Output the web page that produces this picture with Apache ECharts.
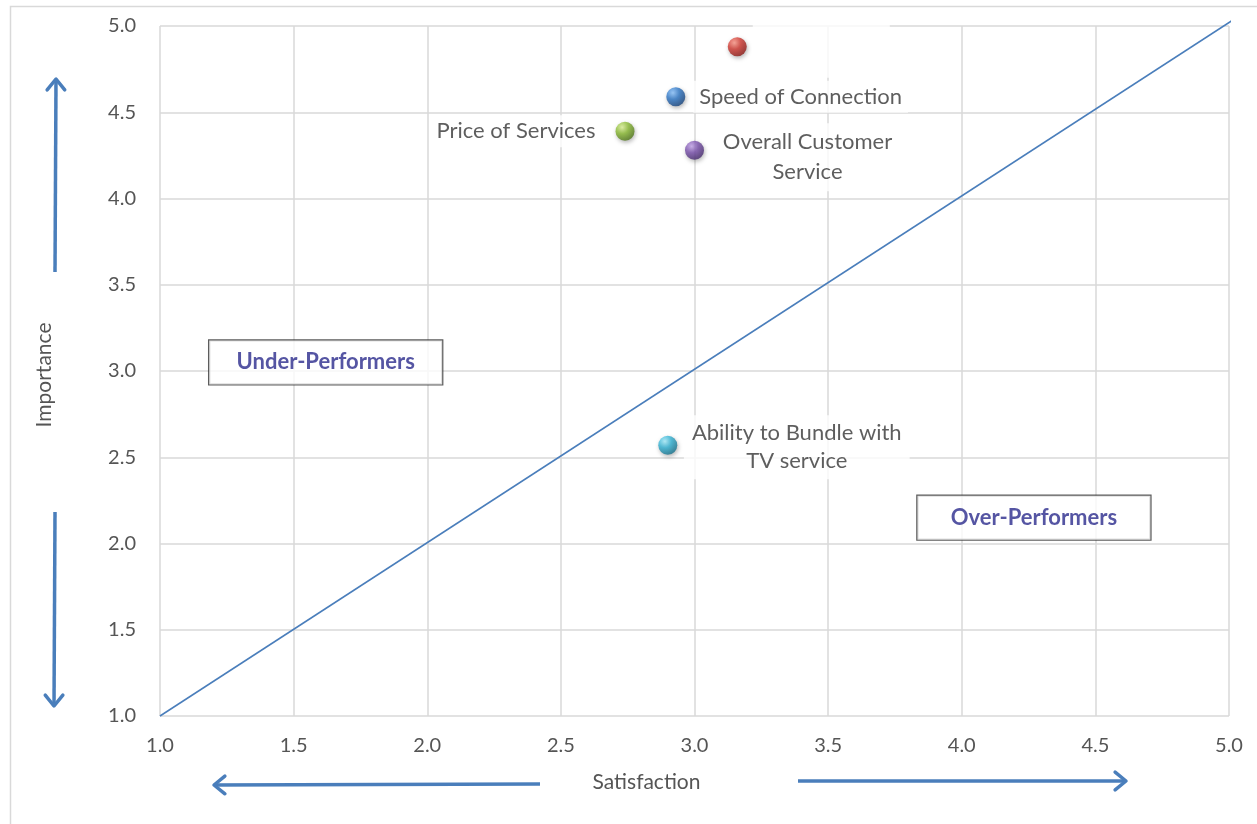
<!DOCTYPE html>
<html>
<head>
<meta charset="utf-8">
<script src="https://cdn.jsdelivr.net/npm/echarts@6/dist/echarts.min.js"></script>
<style>
  html, body { margin: 0; padding: 0; background: #fff; }
  #chart { width: 1257px; height: 824px; }
</style>
</head>
<body>
<div id="chart"></div>
<script>
// Importance vs. satisfaction for each service attribute
const attributes = ['Reliability of Connection', 'Speed of Connection', 'Price of Services', 'Overall Customer\nService', 'Ability to Bundle with\nTV service'];
const satisfaction = [3.16, 2.93, 2.74, 3.00, 2.90];
const importance = [4.88, 4.59, 4.39, 4.28, 2.57];
const ballColors = [
  ['#ff9a8a', '#d23a32', '#8a1a16'],
  ['#8cc4ff', '#2f78c8', '#17427a'],
  ['#e0f59a', '#8cbc34', '#4e7418'],
  ['#c7a8ee', '#7b52ae', '#452a6c'],
  ['#a9f0ff', '#33b4d6', '#17708a']
];

// Parity line: importance equals satisfaction
const parityLine = [[1.0, 1.0], [5.01, 5.03]];

// Quadrant captions
const quadrantNames = ['Under-Performers', 'Over-Performers'];
const quadrantPos = [[1.62, 3.05], [4.27, 2.15]];

const axisTicks = [1.0, 1.5, 2.0, 2.5, 3.0, 3.5, 4.0, 4.5, 5.0];

const FONT = 'Lato';
const TEXT = '#363636';
const AXIS_TEXT = '#555555';
const ARROW = '#4a7ebb';

// label placement per attribute
const labelStyles = [
  { show: true, formatter: ' ', position: 'inside', offset: [84, 0], width: 137, height: 62, backgroundColor: '#fff' },
  { show: true, position: 'right', distance: 8, padding: [5, 6], backgroundColor: '#fff' },
  { show: true, position: 'left', distance: 14, padding: [5, 6], backgroundColor: '#fff' },
  { show: true, position: 'inside', offset: [113, 7], align: 'center', verticalAlign: 'middle', lineHeight: 30, padding: [4, 8], backgroundColor: '#fff' },
  { show: true, position: 'inside', offset: [129, 2], align: 'center', verticalAlign: 'middle', lineHeight: 28, padding: [4, 8], backgroundColor: '#fff' }
];

const pointData = attributes.map((name, i) => ({
  name: name,
  value: [satisfaction[i], importance[i]],
  itemStyle: {
    color: {
      type: 'radial', x: 0.35, y: 0.3, r: 0.75,
      colorStops: [
        { offset: 0, color: ballColors[i][0] },
        { offset: 0.45, color: ballColors[i][1] },
        { offset: 1, color: ballColors[i][2] }
      ]
    },
    shadowColor: 'rgba(0,0,0,0.35)', shadowBlur: 4, shadowOffsetX: 1, shadowOffsetY: 2
  },
  label: Object.assign({ formatter: '{b}', color: TEXT, fontSize: 22, fontFamily: FONT }, labelStyles[i])
}));

const quadrantData = quadrantNames.map((n, i) => ({ name: n, value: quadrantPos[i] }));

function arrow(x1, y1, x2, y2) {
  const ang = Math.atan2(y2 - y1, x2 - x1);
  const L = 14, W = 0.68;
  const a1 = [x2 - L * Math.cos(ang - W), y2 - L * Math.sin(ang - W)];
  const a2 = [x2 - L * Math.cos(ang + W), y2 - L * Math.sin(ang + W)];
  return [
    { type: 'line', shape: { x1: x1, y1: y1, x2: x2, y2: y2 }, style: { stroke: ARROW, lineWidth: 3.5 } },
    { type: 'polyline', shape: { points: [a1, [x2, y2], a2] }, style: { stroke: ARROW, lineWidth: 3.5, fill: null, lineCap: 'round', lineJoin: 'round' } }
  ];
}

const chart = echarts.init(document.getElementById('chart'));
chart.setOption({
  backgroundColor: '#fff',
  animation: false,
  grid: { left: 160, right: 28, top: 26, bottom: 108 },
  xAxis: {
    type: 'value', min: 1, max: 5, interval: 0.5,
    name: 'Satisfaction', nameLocation: 'middle', nameGap: 56,
    nameTextStyle: { color: AXIS_TEXT, fontSize: 21, fontFamily: FONT, padding: [0, 96, 0, 0] },
    axisLine: { show: false }, axisTick: { show: false },
    axisLabel: { color: AXIS_TEXT, fontSize: 20, fontFamily: FONT, margin: 20, formatter: v => v.toFixed(1) },
    splitLine: { lineStyle: { color: '#d9d9d9', width: 1.5 } }
  },
  yAxis: {
    type: 'value', min: 1, max: 5, interval: 0.5,
    name: 'Importance', nameLocation: 'middle', nameGap: 105, nameRotate: 90,
    nameTextStyle: { color: AXIS_TEXT, fontSize: 21, fontFamily: FONT, padding: [0, 8, 0, 0] },
    axisLine: { show: false }, axisTick: { show: false },
    axisLabel: { color: AXIS_TEXT, fontSize: 20, fontFamily: FONT, margin: 24, formatter: v => v.toFixed(1) },
    splitLine: { lineStyle: { color: '#d9d9d9', width: 1.5 } }
  },
  series: [
    {
      type: 'line', data: parityLine, symbol: 'none', clip: false,
      lineStyle: { color: '#4a7ebb', width: 1.5 }, z: 2
    },
    {
      type: 'scatter', data: pointData, symbolSize: 19, z: 5
    },
    {
      type: 'scatter', data: quadrantData, symbolSize: 0, z: 4,
      label: {
        show: true, position: 'inside', formatter: '{b}',
        width: 233, height: 44, align: 'center', verticalAlign: 'middle',
        backgroundColor: '#fff', borderColor: '#333', borderWidth: 1.2,
        color: '#2b2b8c', fontWeight: 'bold', fontSize: 22, fontFamily: FONT
      }
    }
  ],
  graphic: [
    { type: 'rect', shape: { x: 10.5, y: 6.5, width: 1260, height: 830 }, style: { stroke: '#d9d9d9', lineWidth: 1.5, fill: null }, z: -10 }
  ].concat(
    arrow(55, 272, 56, 79),
    arrow(55, 512, 54, 706),
    arrow(540, 784, 214, 785),
    arrow(798, 781, 1126, 781)
  )
});
</script>
</body>
</html>
